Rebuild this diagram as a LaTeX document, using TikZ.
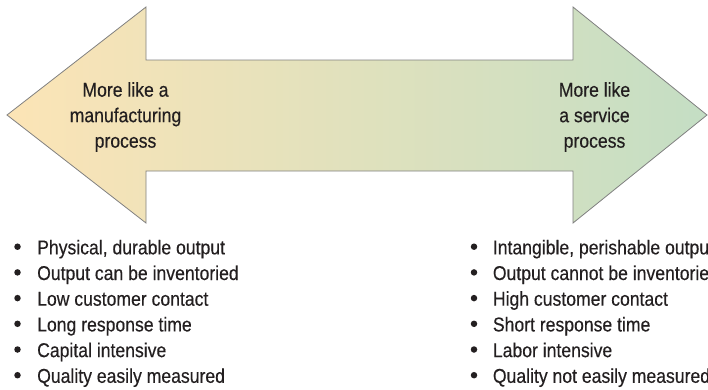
\documentclass[tikz,border=0pt]{standalone}
\usepackage{fontspec}
\setmainfont[FakeStretch=0.88,FakeBold=0.35]{Liberation Sans}

\definecolor{mfgcol}{RGB}{252,228,182}
\definecolor{midcol}{RGB}{228,228,192}
\definecolor{svccol}{RGB}{196,222,196}
\definecolor{edgecol}{RGB}{128,128,128}
\definecolor{txtcol}{RGB}{35,31,32}

\tikzset{
	label/.style={align=center, inner sep=0pt, text=txtcol, font=\fontsize{20}{25.5}\selectfont},
	item/.style={anchor=base west, inner sep=0pt, text=txtcol, font=\fontsize{20}{24}\selectfont},
	dot/.style={circle, fill=txtcol, minimum size=6.5pt, inner sep=0pt}
}

\begin{document}
\begin{tikzpicture}[x=1pt,y=-1pt]
	\useasboundingbox (0,0) rectangle (708,389);

	% double headed arrow
	\shade [left color=mfgcol, middle color=midcol, right color=svccol, draw=edgecol, line width=0.8pt, line join=miter]
		(7,115) -- (146,7) -- (146,60) -- (573,60) -- (573,7) -- (707,115)
		-- (573,223) -- (573,171) -- (146,171) -- (146,223) -- cycle;

	\node[label] (mfg) at (125.5,117) {More like a\\manufacturing\\process};
	\node[label] (svc) at (594.5,117) {More like\\a service\\process};

	% lists under each end
	\foreach \txt [count=\i from 0] in {{Physical, durable output}, Output can be inventoried,
		Low customer contact, Long response time, Capital intensive, Quality easily measured}
	{
		\node[dot] (mfgdot\i) at (17.5,246.7+25.7*\i) {};
		\node[item] (mfgitem\i) at (37,254.3+25.7*\i) {\txt};
	}
	\foreach \txt [count=\i from 0] in {{Intangible, perishable output}, Output cannot be inventoried,
		High customer contact, Short response time, Labor intensive, Quality not easily measured}
	{
		\node[dot] (svcdot\i) at (474,246.7+25.7*\i) {};
		\node[item] (svcitem\i) at (492.7,254.3+25.7*\i) {\txt};
	}
\end{tikzpicture}
\end{document}
